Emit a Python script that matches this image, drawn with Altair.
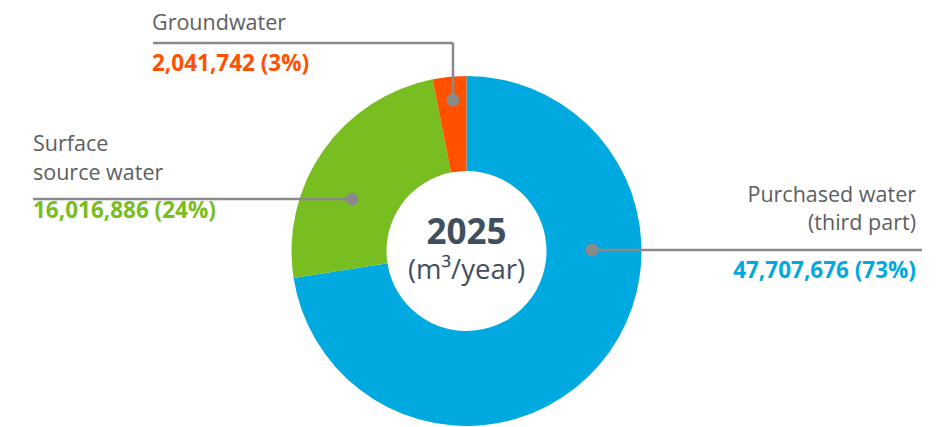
import altair as alt
import pandas as pd

# ---- data ----
categories = ["Purchased water (third part)", "Surface source water", "Groundwater"]
values = [47707676, 16016886, 2041742]
colors = ["#00a9e0", "#78be20", "#ff5100"]
label_lines = [["Purchased water", "(third part)"], ["Surface", "source water"], ["Groundwater"]]
center_title = "2025"
center_unit = "(m³/year)"

# ---- layout (pixels, chart coordinates) ----
W, H = 933, 419
CX, CY = 458.5, 243
R_OUT, R_IN = 175, 80
FONT = "Open Sans"
GREY_TEXT = "#5e5e5e"
LINE_GREY = "#8a8a8a"

layout = {
    "Purchased water (third part)": dict(align="right", tx=908, label_y=[194, 222], value_y=270,
                                         lines=[(584, 242, 914, 242)], dot=(584, 242)),
    "Surface source water": dict(align="left", tx=25, label_y=[143, 172], value_y=210,
                                 lines=[(25, 191, 344, 191)], dot=(344, 191)),
    "Groundwater": dict(align="left", tx=144, label_y=[22], value_y=63,
                        lines=[(145, 35, 445, 35), (445, 35, 445, 92)], dot=(445, 92)),
}

total = sum(values)
pcts = [round(v / total * 100) for v in values]
value_texts = [f"{v:,} ({p}%)" for v, p in zip(values, pcts)]

pie_df = pd.DataFrame({"category": categories, "value": values, "idx": list(range(len(categories)))})

label_rows, value_rows, rule_rows, dot_rows = [], [], [], []
for cat, lines, vt in zip(categories, label_lines, value_texts):
    L = layout[cat]
    for t, y in zip(lines, L["label_y"]):
        label_rows.append(dict(text=t, x=L["tx"], y=y, align=L["align"]))
    value_rows.append(dict(text=vt, x=L["tx"], y=L["value_y"], align=L["align"], category=cat))
    for (x1, y1, x2, y2) in L["lines"]:
        rule_rows.append(dict(x=x1, y=y1, x2=x2, y2=y2))
    dot_rows.append(dict(x=L["dot"][0], y=L["dot"][1]))

labels_df = pd.DataFrame(label_rows)
vals_df = pd.DataFrame(value_rows)
rules_df = pd.DataFrame(rule_rows)
dots_df = pd.DataFrame(dot_rows)
center_df = pd.DataFrame([
    dict(text=center_title, x=CX, y=236, kind="title"),
    dict(text=center_unit, x=CX, y=271, kind="unit"),
])

xs = alt.Scale(domain=[0, W], range=[0, W], zero=False, nice=False)
ys = alt.Scale(domain=[0, H], range=[0, H], zero=False, nice=False)
color_scale = alt.Scale(domain=categories, range=colors)

arc = alt.Chart(pie_df).mark_arc(outerRadius=R_OUT, innerRadius=R_IN).encode(
    theta=alt.Theta("value:Q", stack=True),
    color=alt.Color("category:N", scale=color_scale, legend=None),
    order=alt.Order("idx:Q"),
    x=alt.value(CX),
    y=alt.value(CY),
)

rules = alt.Chart(rules_df).mark_rule(color=LINE_GREY, strokeWidth=2.5).encode(
    x=alt.X("x:Q", scale=xs, axis=None),
    y=alt.Y("y:Q", scale=ys, axis=None),
    x2="x2:Q",
    y2="y2:Q",
)

dots = alt.Chart(dots_df).mark_point(filled=True, shape="circle", size=170, color=LINE_GREY, opacity=1).encode(
    x=alt.X("x:Q", scale=xs, axis=None),
    y=alt.Y("y:Q", scale=ys, axis=None),
)

def text_layer(df, align, **kw):
    sub = df[df["align"] == align]
    return alt.Chart(sub).mark_text(align=align, baseline="alphabetic", font=FONT, **kw)

lab_left = text_layer(labels_df, "left", fontSize=21.5, color=GREY_TEXT).encode(
    x=alt.X("x:Q", scale=xs, axis=None), y=alt.Y("y:Q", scale=ys, axis=None), text="text:N")
lab_right = text_layer(labels_df, "right", fontSize=21.5, color=GREY_TEXT).encode(
    x=alt.X("x:Q", scale=xs, axis=None), y=alt.Y("y:Q", scale=ys, axis=None), text="text:N")

val_left = text_layer(vals_df, "left", fontSize=22.5, fontWeight="bold").encode(
    x=alt.X("x:Q", scale=xs, axis=None), y=alt.Y("y:Q", scale=ys, axis=None), text="text:N",
    color=alt.Color("category:N", scale=color_scale, legend=None))
val_right = text_layer(vals_df, "right", fontSize=22.5, fontWeight="bold").encode(
    x=alt.X("x:Q", scale=xs, axis=None), y=alt.Y("y:Q", scale=ys, axis=None), text="text:N",
    color=alt.Color("category:N", scale=color_scale, legend=None))

c_title = alt.Chart(center_df[center_df["kind"] == "title"]).mark_text(
    align="center", baseline="alphabetic", font=FONT, fontSize=35, fontWeight="bold", color="#3f4f5e").encode(
    x=alt.X("x:Q", scale=xs, axis=None), y=alt.Y("y:Q", scale=ys, axis=None), text="text:N")
c_unit = alt.Chart(center_df[center_df["kind"] == "unit"]).mark_text(
    align="center", baseline="alphabetic", font=FONT, fontSize=27.5, color="#3f4f5e").encode(
    x=alt.X("x:Q", scale=xs, axis=None), y=alt.Y("y:Q", scale=ys, axis=None), text="text:N")

chart = alt.layer(arc, rules, dots, lab_left, lab_right, val_left, val_right, c_title, c_unit).properties(
    width=W, height=H, padding=0,
    autosize=alt.AutoSizeParams(type="fit", contains="padding"),
).configure_view(stroke=None)

chart.save("out.html", embed_options={"renderer": "svg", "actions": False})
